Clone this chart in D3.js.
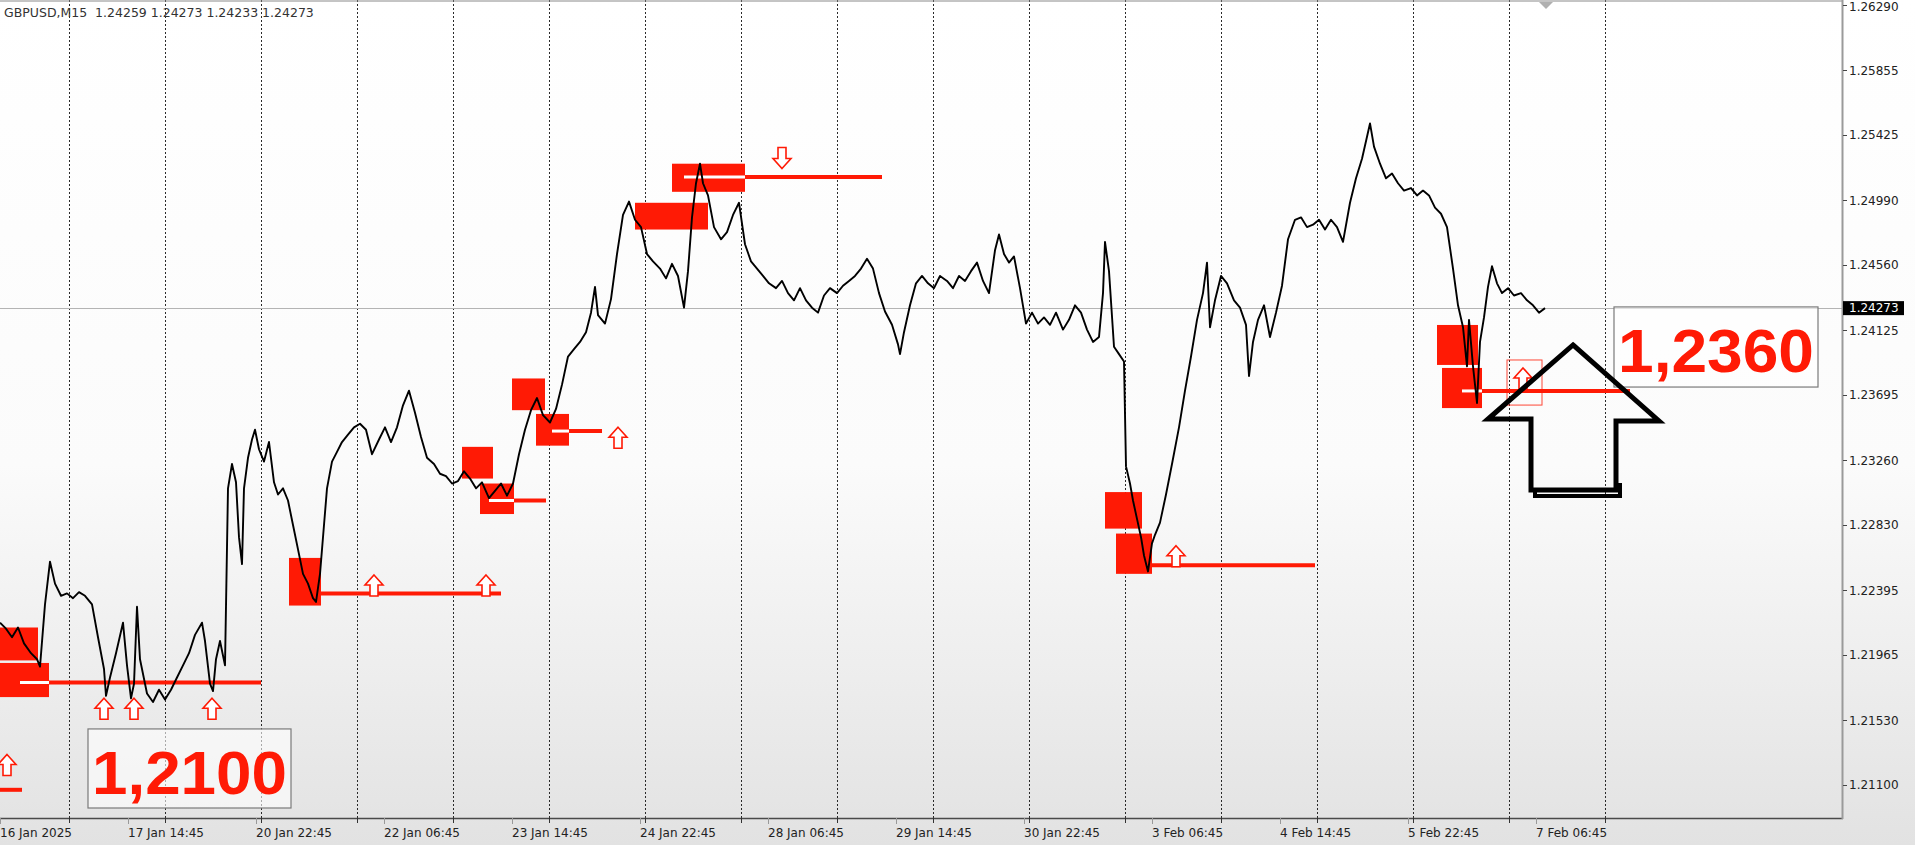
<!DOCTYPE html>
<html><head><meta charset="utf-8">
<script src="https://cdn.jsdelivr.net/npm/d3@7"></script>
<style>html,body{margin:0;padding:0;background:#fff;overflow:hidden}</style>
</head><body>
<svg id="chart" width="1915" height="845"></svg>
<script>
// ---------------- data ----------------
const titleText = "GBPUSD,M15  1.24259 1.24273 1.24233 1.24273";
const priceTicks = [1.26290,1.25855,1.25425,1.24990,1.24560,1.24125,1.23695,1.23260,1.22830,1.22395,1.21965,1.21530,1.21100];
const timeLabels = ["16 Jan 2025","17 Jan 14:45","20 Jan 22:45","22 Jan 06:45","23 Jan 14:45","24 Jan 22:45","28 Jan 06:45","29 Jan 14:45","30 Jan 22:45","3 Feb 06:45","4 Feb 14:45","5 Feb 22:45","7 Feb 06:45"];
const timeLabelBars = [0,128,256,384,512,640,768,896,1024,1152,1280,1408,1536];
const dayBars = [69,165,261,357,453,549,645,741,837,933,1029,1125,1221,1317,1413,1509,1605];
const lastPrice = 1.24273;

const closeBars = [
0,6,12,18,24,31,37,40,45,50,55,61,67,73,79,85,92,98,104,106,110,116,123,127,131,134,137,140,147,153,159,165,171,177,183,189,195,202,205,210,213,216,220,225,
228,232,236,239,242,244,248,252,255,259,264,269,274,278,283,288,293,298,303,308,313,316,320,324,327,332,337,342,348,354,360,366,372,379,385,391,397,403,409,415,
421,427,434,440,446,452,458,464,470,476,482,489,495,501,507,513,519,525,531,537,543,550,556,562,568,574,580,586,591,595,598,605,611,617,623,629,635,641,647,653,
660,666,672,678,684,688,692,696,700,703,708,714,721,727,733,739,745,751,757,763,769,776,782,788,794,800,806,812,818,824,830,837,843,849,855,861,867,873,879,885,
892,898,900,904,910,916,922,928,934,940,947,953,959,965,971,977,983,989,995,999,1004,1009,1014,1020,1026,1032,1038,1044,1050,1056,1063,1069,1075,1081,1087,1093,1099,1103,1105,1109,
1114,1119,1124,
1126,1130,1133,1137,1141,1144,1148,1152,1155,1160,1166,1172,1179,1185,1191,1197,1203,1207,1210,1215,1221,1227,1234,1240,1246,1249,1253,1258,1264,1270,
1276,1282,1288,1295,1301,1307,1313,1319,1325,1331,1337,1343,1350,1356,1362,1367,1370,1374,1380,1386,1392,1398,1404,1411,1417,1423,1429,1435,1441,1447,
1453,1458,1463,1467,1469,1473,1477,1480,1484,1488,1492,1497,1502,1508,1514,1521,1527,1533,1539,1545];

const closePrices = [
1.22180,1.22140,1.22083,1.22148,1.22042,1.21977,1.21937,1.21888,1.22302,1.22586,1.22440,1.22359,1.22375,1.22343,1.22383,1.22359,1.22302,1.22083,1.21872,1.21693,1.21815,1.21977,1.22180,1.21896,1.21677,1.21774,1.22286,1.21937,1.21709,1.21652,1.21734,1.21669,1.21734,1.21815,1.21896,1.21977,1.22099,1.22180,1.22058,1.21774,1.21725,1.21937,1.22058,1.21896,
1.23074,1.23236,1.23114,1.22749,1.22570,1.23074,1.23277,1.23399,1.23464,1.23334,1.23252,1.23382,1.23114,1.23033,1.23074,1.22993,1.22830,1.22668,1.22505,1.22440,1.22343,1.22318,1.22505,1.22830,1.23074,1.23252,1.23317,1.23382,1.23431,1.23480,1.23504,1.23464,1.23301,1.23399,1.23480,1.23382,1.23480,1.23626,1.23724,1.23577,
1.23415,1.23277,1.23236,1.23171,1.23155,1.23106,1.23122,1.23187,1.23139,1.23074,1.23114,1.23009,1.23057,1.23106,1.23025,1.23106,1.23301,1.23464,1.23594,1.23675,1.23561,1.23512,1.23602,1.23764,1.23951,1.24000,1.24048,1.24113,1.24243,1.24414,1.24227,1.24170,1.24333,1.24633,1.24893,1.24982,1.24861,1.24812,1.24633,1.24584,
1.24536,1.24471,1.24568,1.24487,1.24276,1.24519,1.24877,1.25104,1.25234,1.25104,1.25023,1.24812,1.24731,1.24779,1.24893,1.24974,1.24698,1.24584,1.24536,1.24487,1.24438,1.24406,1.24454,1.24373,1.24325,1.24406,1.24325,1.24276,1.24243,1.24357,1.24406,1.24373,1.24422,1.24454,1.24487,1.24536,1.24601,1.24536,1.24373,1.24251,
1.24162,1.24032,1.23967,1.24113,1.24292,1.24438,1.24487,1.24438,1.24406,1.24487,1.24454,1.24406,1.24487,1.24454,1.24519,1.24576,1.24454,1.24373,1.24658,1.24763,1.24633,1.24576,1.24617,1.24406,1.24170,1.24243,1.24170,1.24211,1.24162,1.24243,1.24130,1.24195,1.24292,1.24243,1.24130,1.24048,1.24081,1.24373,1.24714,1.24519,
1.24016,1.23967,1.23918,
1.23220,1.23106,1.22993,1.22871,1.22749,1.22627,1.22521,1.22708,1.22765,1.22846,1.23033,1.23236,1.23480,1.23724,1.23951,1.24195,1.24373,1.24576,1.24146,1.24325,1.24487,1.24438,1.24325,1.24276,1.24162,1.23821,1.24048,1.24195,1.24292,1.24081,
1.24243,1.24422,1.24731,1.24861,1.24877,1.24812,1.24828,1.24861,1.24796,1.24861,1.24812,1.24714,1.24974,1.25137,1.25267,1.25413,1.25502,1.25348,1.25234,1.25137,1.25169,1.25104,1.25055,1.25072,1.25023,1.25055,1.25023,1.24942,1.24901,1.24812,
1.24536,1.24292,1.24146,1.23886,1.24195,1.23886,1.23642,1.24048,1.24211,1.24414,1.24552,1.24438,1.24373,1.24406,1.24357,1.24373,1.24325,1.24292,1.24243,1.24273];

// supply/demand zones: [startBar, endBar, topPrice, bottomPrice]
const zones = [
[0,38,1.22148,1.21929],[0,49,1.21912,1.21685],
[289,321,1.22611,1.22294],
[462,493,1.23350,1.23139],[480,514,1.23106,1.22903],
[512,545,1.23805,1.23594],[536,569,1.23569,1.23358],
[635,708,1.24974,1.24796],[672,745,1.25234,1.25047],
[1105,1142,1.23049,1.22806],[1116,1152,1.22773,1.22505],
[1437,1478,1.24161,1.23895],[1442,1482,1.23875,1.23608]];
// level lines: [whiteStart, redStart, end, price]
const levels = [
[20,49,261,1.21782],[0,0,22,1.21068],[321,321,501,1.22375],[489,514,546,1.22993],
[552,569,602,1.23455],[684,745,882,1.25145],[1152,1152,1315,1.22562],[1462,1482,1630,1.23722]];
// arrows: [bar, tipPrice, direction]
const arrowMarks = [
[7,1.21303,"up"],[104,1.21677,"up"],[134,1.21677,"up"],[212,1.21677,"up"],
[374,1.22497,"up"],[486,1.22497,"up"],[618,1.23480,"up"],[782,1.25202,"down"],
[1176,1.22692,"up"],[1523,1.23875,"up"]];
const selectionBox = [1507,1542,1.23928,1.23628];
// text labels: [text, startBar, endBar, topPrice, bottomPrice]
const notes = [["1,2100",88,291,1.21473,1.20947],["1,2360",1614,1818,1.24281,1.23748]];
// big hand-drawn arrow vertices [bar, price]
const bigArrow = [[1573,1.24028],[1659,1.23522],[1616,1.23522],[1616,1.23063],[1531,1.23063],[1531,1.23535],[1488,1.23535]];
const bigArrowBase = [[1535,1.23063],[1535,1.23023],[1620,1.23023],[1620,1.23110]];

// ---------------- drawing ----------------
const W = 1915, H = 845, plotR = 1842, plotB = 818;
const RED = "#ff1a05";
const svg = d3.select("#chart");
const x = d3.scaleLinear().domain([0, 1842]).range([0, plotR]);
const y = d3.scaleLinear().domain([1.21100, 1.26290]).range([785, 5]);

const defs = svg.append("defs");
const g = defs.append("linearGradient").attr("id","bg").attr("x1",0).attr("y1",0).attr("x2",0).attr("y2",1);
g.append("stop").attr("offset","0%").attr("stop-color","#ffffff");
g.append("stop").attr("offset","55%").attr("stop-color","#fbfbfb");
g.append("stop").attr("offset","100%").attr("stop-color","#e2e2e2");
svg.append("rect").attr("width",W).attr("height",H).attr("fill","url(#bg)");

// day grid
svg.append("g").selectAll("line").data(dayBars).join("line")
  .attr("x1",d=>Math.round(x(d))+0.5).attr("x2",d=>Math.round(x(d))+0.5)
  .attr("y1",0).attr("y2",plotB)
  .attr("stroke","#2a2a2a").attr("stroke-width",1).attr("stroke-dasharray","2,2");

// bid line
svg.append("line").attr("x1",0).attr("x2",plotR).attr("y1",Math.round(y(lastPrice))+0.5).attr("y2",Math.round(y(lastPrice))+0.5)
  .attr("stroke","#b4b4b4").attr("stroke-width",1);

// zones
svg.append("g").selectAll("rect").data(zones).join("rect")
  .attr("x",d=>x(d[0])).attr("width",d=>x(d[1])-x(d[0]))
  .attr("y",d=>y(d[2])).attr("height",d=>y(d[3])-y(d[2]))
  .attr("fill",RED);

// level lines
const lv = svg.append("g");
lv.selectAll("line.w").data(levels.filter(d=>d[1]>d[0])).join("line").attr("class","w")
  .attr("x1",d=>x(d[0])).attr("x2",d=>x(d[1])).attr("y1",d=>y(d[3])).attr("y2",d=>y(d[3]))
  .attr("stroke","#ffffff").attr("stroke-width",3);
lv.selectAll("line.r").data(levels).join("line").attr("class","r")
  .attr("x1",d=>x(d[1])).attr("x2",d=>x(d[2])).attr("y1",d=>y(d[3])).attr("y2",d=>y(d[3]))
  .attr("stroke",RED).attr("stroke-width",4);

// selection box
svg.append("rect").attr("x",x(selectionBox[0])).attr("width",x(selectionBox[1])-x(selectionBox[0]))
  .attr("y",y(selectionBox[2])).attr("height",y(selectionBox[3])-y(selectionBox[2]))
  .attr("fill","none").attr("stroke",RED).attr("stroke-width",1).attr("opacity",0.8);

// arrows
function arrowPath(d){
  const s = d[2]==="up" ? 1 : -1;
  const pts = [[0,0],[9,10],[4,10],[4,21],[-4,21],[-4,10],[-9,10]];
  return "M" + pts.map(p=>[p[0], s*p[1]].join(",")).join("L") + "Z";
}
svg.append("g").selectAll("path").data(arrowMarks).join("path")
  .attr("transform",d=>`translate(${x(d[0])},${y(d[1])})`)
  .attr("d",arrowPath).attr("fill","#ffffff").attr("stroke",RED).attr("stroke-width",1.6);

// price line
const series = closeBars.map((b,i)=>[b, closePrices[i]]);
svg.append("path").datum(series)
  .attr("d", d3.line().x(d=>x(d[0])).y(d=>y(d[1])))
  .attr("fill","none").attr("stroke","#000").attr("stroke-width",1.9).attr("stroke-linejoin","round");

// text notes
const nt = svg.append("g").selectAll("g").data(notes).join("g");
nt.append("rect").attr("x",d=>x(d[1])).attr("width",d=>x(d[2])-x(d[1]))
  .attr("y",d=>y(d[3])).attr("height",d=>y(d[4])-y(d[3]))
  .attr("fill","#ffffff").attr("fill-opacity",0.6).attr("stroke","#7a7a7a").attr("stroke-width",1.2);
nt.append("text").attr("x",d=>x(d[1])+4).attr("y",d=>y(d[3])+65)
  .attr("font-family","Liberation Sans, Arial, sans-serif").attr("font-weight","bold").attr("font-size",62)
  .attr("fill",RED).attr("textLength",d=>x(d[2])-x(d[1])-8).attr("lengthAdjust","spacingAndGlyphs")
  .text(d=>d[0]);

// big arrow
const ln = d3.line().x(d=>x(d[0])).y(d=>y(d[1]));
svg.append("path").attr("d", ln(bigArrow)+"Z").attr("fill","none").attr("stroke","#000").attr("stroke-width",5).attr("stroke-linejoin","miter");
svg.append("path").attr("d", ln(bigArrowBase)).attr("fill","none").attr("stroke","#000").attr("stroke-width",4);

// frame
svg.append("line").attr("x1",0).attr("x2",plotR).attr("y1",1).attr("y2",1).attr("stroke","#8a8a8a");
svg.append("line").attr("x1",0).attr("x2",plotR+1).attr("y1",plotB+0.5).attr("y2",plotB+0.5).attr("stroke","#4a4a4a").attr("stroke-width",1.5);
svg.append("line").attr("x1",plotR+0.5).attr("x2",plotR+0.5).attr("y1",0).attr("y2",plotB+1).attr("stroke","#9a9a9a").attr("stroke-width",2);

// shift marker
svg.append("path").attr("d",`M${x(1539)},2L${x(1553)},2L${x(1546)},9Z`).attr("fill","#b0b0b0");

// title
svg.append("text").attr("x",4).attr("y",17).attr("font-family","DejaVu Sans, sans-serif").attr("font-size",12.5)
  .attr("fill","#333").attr("xml:space","preserve").style("white-space","pre").text(titleText);

// right axis
const ra = svg.append("g");
ra.selectAll("line").data(priceTicks).join("line")
  .attr("x1",plotR+1).attr("x2",plotR+5).attr("y1",d=>Math.round(y(d))+0.5).attr("y2",d=>Math.round(y(d))+0.5)
  .attr("stroke","#444");
ra.selectAll("text").data(priceTicks).join("text")
  .attr("x",plotR+7).attr("y",d=>Math.max(y(d), 6.5)).attr("dy","0.36em")
  .attr("font-family","DejaVu Sans, sans-serif").attr("font-size",12).attr("fill","#222")
  .text(d=>d.toFixed(5));
ra.append("rect").attr("x",plotR+1).attr("y",y(lastPrice)-7).attr("width",61).attr("height",14).attr("fill","#000");
ra.append("text").attr("x",plotR+7).attr("y",y(lastPrice)).attr("dy","0.36em")
  .attr("font-family","DejaVu Sans, sans-serif").attr("font-size",12).attr("fill","#fff").text(lastPrice.toFixed(5));

// bottom axis
const ba = svg.append("g");
ba.selectAll("line.d").data(dayBars).join("line").attr("class","d")
  .attr("x1",d=>Math.round(x(d))+0.5).attr("x2",d=>Math.round(x(d))+0.5).attr("y1",plotB).attr("y2",plotB+5)
  .attr("stroke","#333");
ba.selectAll("line.l").data(timeLabelBars).join("line").attr("class","l")
  .attr("x1",d=>Math.round(x(d))+0.5).attr("x2",d=>Math.round(x(d))+0.5).attr("y1",plotB).attr("y2",plotB+6)
  .attr("stroke","#999");
ba.selectAll("text").data(timeLabels).join("text")
  .attr("x",(d,i)=>x(timeLabelBars[i])).attr("y",837)
  .attr("font-family","DejaVu Sans, sans-serif").attr("font-size",12).attr("fill","#222")
  .text(d=>d);
</script>
</body></html>
